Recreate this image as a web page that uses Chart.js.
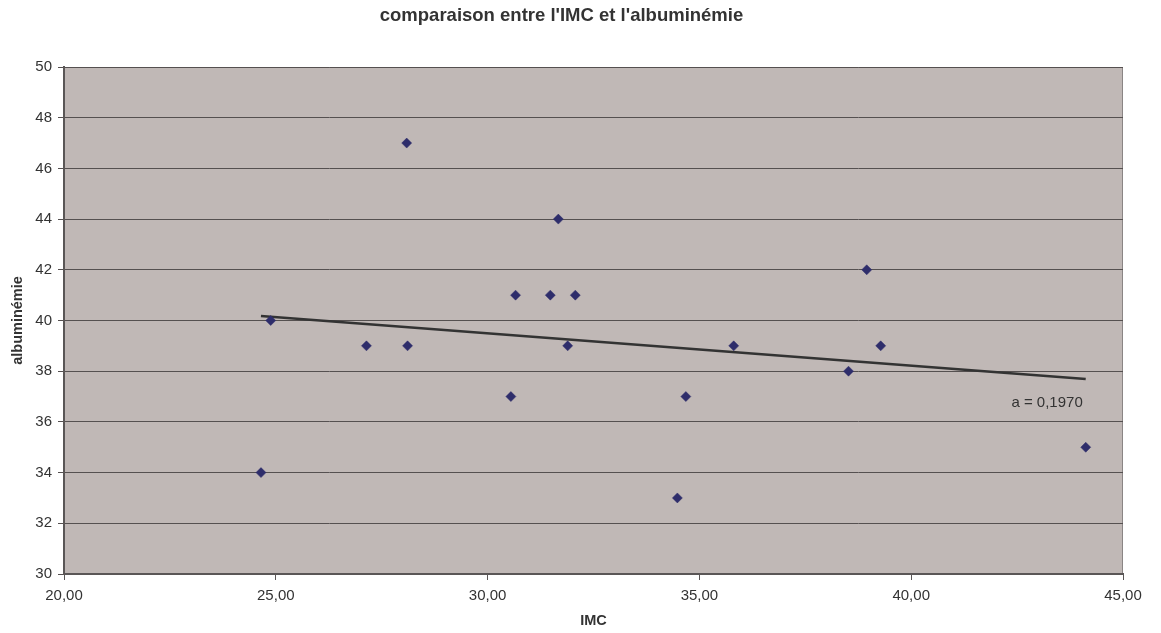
<!DOCTYPE html>
<html>
<head>
<meta charset="utf-8">
<script src="https://cdn.jsdelivr.net/npm/chart.js@4.4.1/dist/chart.umd.min.js"></script>
<style>
  html, body { margin: 0; padding: 0; background: #fff; }
  #wrap { width: 1161px; height: 633px; }
</style>
</head>
<body>
<div id="wrap"><canvas id="scatter-chart" width="1161" height="633"></canvas></div>
<script>
// IMC / albuminémie
var imc = [24.65, 24.88, 27.14, 28.09, 28.11, 30.55, 30.66, 31.48, 31.67, 31.89, 32.07, 34.48, 34.68, 35.81, 38.52, 38.95, 39.28, 44.12];
var albuminemie = [34, 40, 39, 47, 39, 37, 41, 41, 44, 39, 41, 33, 37, 39, 38, 42, 39, 35];

// linear trend line (Excel), start and end
var trendX = [24.65, 44.12];
var trendY = [40.18, 37.69];
var trendLabel = 'a = 0,1970';

var points = imc.map(function(x, i) { return {x: x, y: albuminemie[i]}; });
var trend = trendX.map(function(x, i) { return {x: x, y: trendY[i]}; });

var police = "'Liberation Sans', Arial, sans-serif";

// plot area background + border, and the trend label
var plotArea = {
    id: 'plotArea',
    beforeDraw: function(chart) {
        var a = chart.chartArea, ctx = chart.ctx;
        ctx.save();
        ctx.fillStyle = '#c0b8b6';
        ctx.fillRect(a.left, a.top, a.right - a.left, a.bottom - a.top);
        ctx.strokeStyle = '#8a8585';
        ctx.lineWidth = 1;
        ctx.strokeRect(a.left + 0.5, a.top + 0.5, a.right - a.left - 1, a.bottom - a.top - 1);
        ctx.restore();
    },
    afterDatasetsDraw: function(chart) {
        var ctx = chart.ctx;
        var xs = chart.scales.x, ys = chart.scales.y;
        var n = trendX.length - 1;
        ctx.save();
        ctx.font = '15px ' + police;
        ctx.fillStyle = '#333';
        ctx.textAlign = 'right';
        ctx.textBaseline = 'middle';
        ctx.fillText(trendLabel, xs.getPixelForValue(trendX[n]) - 3, ys.getPixelForValue(trendY[n] - 0.92));
        ctx.restore();
    }
};

var ctx = document.getElementById('scatter-chart');
var chart = new Chart(ctx, {
    type: 'scatter',
    data: {
        datasets: [{
            label: 'albuminémie',
            data: points,
            pointStyle: 'rectRot',
            pointRadius: 5,
            pointHoverRadius: 5,
            backgroundColor: '#2e2d6b',
            borderColor: '#2e2d6b',
            borderWidth: 0.5
        }, {
            label: 'tendance',
            type: 'line',
            data: trend,
            borderColor: '#333333',
            borderWidth: 2.5,
            pointRadius: 0,
            fill: false
        }]
    },
    options: {
        responsive: false,
        animation: false,
        devicePixelRatio: 1,
        layout: { padding: { left: 0, right: 38, top: 0, bottom: 0 } },
        plugins: {
            legend: { display: false },
            tooltip: { enabled: false },
            title: {
                display: true,
                text: "comparaison entre l'IMC et l'albuminémie",
                color: '#333',
                font: { family: police, size: 18.5, weight: 'bold' },
                padding: { top: 5, bottom: 39.8 }
            }
        },
        scales: {
            x: {
                type: 'linear',
                min: 20,
                max: 45,
                afterFit: function(scale) { scale.height = 59; },
                ticks: {
                    stepSize: 5,
                    color: '#333',
                    padding: 7,
                    maxRotation: 0,
                    font: { family: police, size: 15 },
                    callback: function(v) { return v.toFixed(2).replace('.', ','); }
                },
                grid: { drawOnChartArea: false, drawTicks: true, tickLength: 6, color: '#5a5656' },
                border: { color: '#5a5656', width: 2 },
                title: {
                    display: true,
                    text: 'IMC',
                    color: '#333',
                    font: { family: police, size: 14.5, weight: 'bold' },
                    padding: { top: 0, bottom: 3 }
                }
            },
            y: {
                min: 30,
                max: 50,
                afterFit: function(scale) { scale.width = 64; },
                ticks: {
                    stepSize: 2,
                    color: '#333',
                    padding: 6,
                    font: { family: police, size: 15 }
                },
                grid: { color: '#555050', lineWidth: 1, tickLength: 6 },
                border: { color: '#5a5656', width: 2 },
                title: {
                    display: true,
                    text: 'albuminémie',
                    color: '#333',
                    font: { family: police, size: 14.5, weight: 'bold' },
                    padding: { top: 9, bottom: 0 }
                }
            }
        }
    },
    plugins: [plotArea]
});
</script>
</body>
</html>
